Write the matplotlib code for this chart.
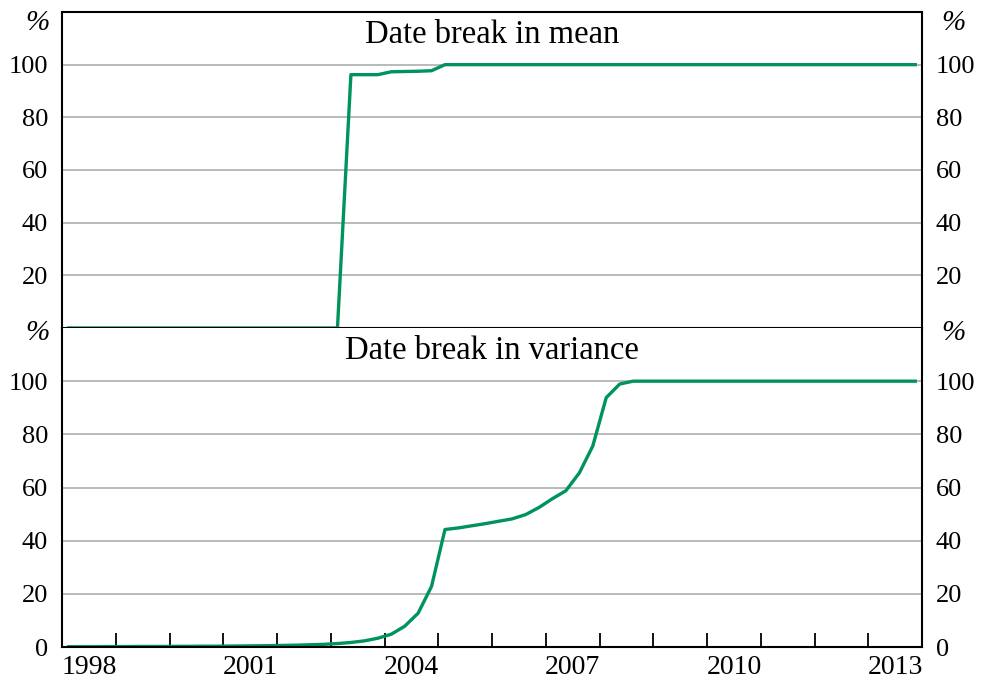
import matplotlib
matplotlib.use("Agg")
import matplotlib.pyplot as plt
import numpy as np

plt.rcParams['font.family'] = ['Liberation Serif', 'DejaVu Serif']

# Quarterly data, 1998 Q1 .. 2013 Q4
start_year = 1998
n_quarters = 64
mean_break = ([0.0] * 21 + [96.2, 96.2, 96.2, 97.3, 97.4, 97.5, 97.7] + [100.0] * 36)
var_break = ([0.1, 0.1, 0.1, 0.15, 0.15, 0.2, 0.2, 0.2, 0.25, 0.25,
              0.3, 0.3, 0.35, 0.4, 0.45, 0.5, 0.6, 0.7, 0.85, 1.0,
              1.3, 1.7, 2.3, 3.3, 4.8, 7.8, 12.7, 22.8,
              44.2, 44.8, 45.6, 46.4, 47.3, 48.2, 49.8, 52.5, 55.8, 58.8,
              65.5, 75.6, 93.8, 98.9] + [100.0] * 22)
titles = ["Date break in mean", "Date break in variance"]
ytick_vals = [0, 20, 40, 60, 80, 100]
year_labels = [1998, 2001, 2004, 2007, 2010, 2013]

x = start_year + (np.arange(n_quarters) + 0.5) / 4.0
green = '#00935c'
grid_c = '#b4b4b4'
fs = 19

fig = plt.figure(figsize=(9.84, 6.86), dpi=100)
L, R = 62 / 984, 922 / 984
ymid = 1 - 328 / 686
ax1 = fig.add_axes([L, ymid, R - L, (1 - 12 / 686) - ymid])
ax2 = fig.add_axes([L, 1 - 647 / 686, R - L, ymid - (1 - 647 / 686)])

for ax, data, title, top in [(ax1, mean_break, titles[0], True), (ax2, var_break, titles[1], False)]:
    ax.set_xlim(1998, 2014)
    ax.set_ylim(0, 120)
    for v in ytick_vals[1:]:
        ax.axhline(v, color=grid_c, lw=1.3, zorder=1)
    ax.plot(x, data, color=green, lw=2.4, zorder=3, solid_joinstyle='round')
    if top:
        yt = ytick_vals[1:]
    else:
        yt = ytick_vals
    ax.set_yticks(yt)
    ax.set_yticklabels([str(v) for v in yt])
    ax.tick_params(axis='y', length=0, labelsize=fs, labelleft=True, labelright=True, pad=10)
    for s in ax.spines.values():
        s.set_linewidth(1.5)
        s.set_color('black')
        s.set_zorder(4)
    h = 316 if top else 319
    ax.text(0.5, 1 - 23 / h, title, transform=ax.transAxes, ha='center', va='center',
            fontsize=23.5)
    py = 1 - 11 / h if top else 1 - 5 / h
    ax.text(-0.0145, py, '%', transform=ax.transAxes, ha='right', va='center',
            fontsize=21, style='italic')
    ax.text(1.0225, py, '%', transform=ax.transAxes, ha='left', va='center',
            fontsize=21, style='italic')

ax1.set_xticks([])
ax2.spines['top'].set_visible(False)
ax2.set_xticks(list(range(1999, 2014)))
ax2.set_xticklabels([])
ax2.tick_params(axis='x', which='major', direction='in', length=10, width=1.3)
ax2.set_xticks([y + 0.5 for y in year_labels], minor=True)
ax2.set_xticklabels([str(y) for y in year_labels], minor=True)
ax2.tick_params(axis='x', which='minor', length=0, labelsize=20, pad=6)

fig.savefig('out.png', dpi=100)
